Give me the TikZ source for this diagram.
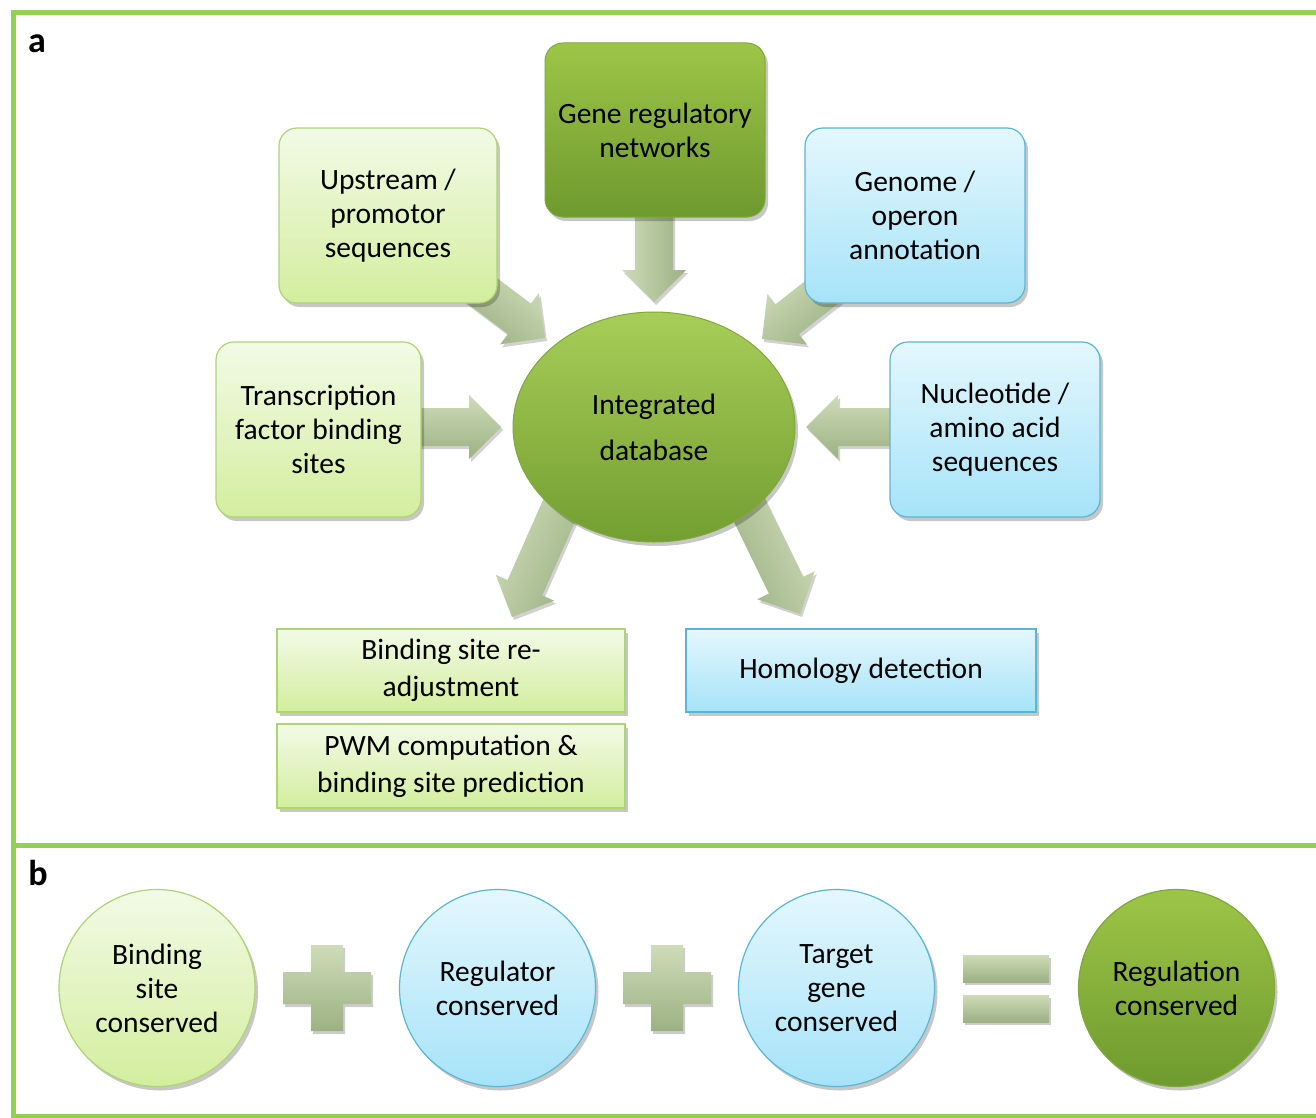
\documentclass[tikz,border=0pt]{standalone}
\usepackage{fontspec}
\setmainfont{Carlito}
\usetikzlibrary{shapes.geometric,shadows,calc}
\definecolor{framegreen}{HTML}{92D050}
\definecolor{lgTop}{HTML}{F2FAE6}
\definecolor{lgBot}{HTML}{D3EE9E}
\definecolor{lgBorder}{HTML}{B0D374}
\definecolor{lbTop}{HTML}{E4F7FD}
\definecolor{lbBot}{HTML}{A6E3F8}
\definecolor{lbBorder}{HTML}{5AB6D6}
\definecolor{dgTop}{HTML}{9DC547}
\definecolor{dgBot}{HTML}{6E9A2E}
\definecolor{dgBorder}{HTML}{7FA93A}
\definecolor{arLight}{HTML}{CEDCB8}
\definecolor{arDark}{HTML}{9CB183}
% block arrow from tail #1 to tip #2, name prefix #3, shading angle #4
\newcommand\fatarrow[4]{%
  \coordinate (#3n) at ($(#2)!32pt!(#1)$);
  \path[fatarr, shading angle=#4] ($(#1)!19pt!90:(#2)$) -- ($(#3n)!19pt!-90:(#1)$) -- ($(#3n)!32pt!-90:(#1)$)
    -- (#2) -- ($(#3n)!32pt!90:(#1)$) -- ($(#3n)!19pt!90:(#1)$) -- ($(#1)!19pt!-90:(#2)$) -- cycle;
}
\begin{document}
\begin{tikzpicture}[x=1pt,y=-1pt,
  txt/.style={font=\fontsize{29.5}{34}\selectfont, align=center, text=black, inner sep=0},
  softshadow/.style={drop shadow={shadow xshift=3pt, shadow yshift=-4pt, opacity=0.22, fill=black}},
  lgbox/.style={txt, rounded corners=18, draw=lgBorder, line width=1.2, top color=lgTop, bottom color=lgBot, softshadow},
  lbbox/.style={txt, rounded corners=18, draw=lbBorder, line width=1.2, top color=lbTop, bottom color=lbBot, softshadow},
  dgbox/.style={txt, rounded corners=18, draw=dgBorder, line width=1.0, top color=dgTop, bottom color=dgBot, softshadow},
  lgrect/.style={txt, draw=lgBorder, line width=1.2, top color=lgTop, bottom color=lgBot, softshadow},
  lbrect/.style={txt, draw=lbBorder, line width=1.2, top color=lbTop, bottom color=lbBot, softshadow},
  fatarr/.style={draw=none, top color=arLight, bottom color=arDark,
    drop shadow={shadow xshift=2pt, shadow yshift=-3pt, opacity=0.18, fill=black}},
  circ/.style={txt, ellipse, minimum width=196, minimum height=197, line width=1.2, softshadow},
  barshape/.style={top color=arLight, bottom color=arDark, draw=none,
    drop shadow={shadow xshift=2pt, shadow yshift=-3pt, opacity=0.2, fill=black}},
  lbl/.style={font=\fontsize{36}{40}\selectfont\bfseries, inner sep=0}
]
\useasboundingbox (0,0) rectangle (1316,1118);
\fill[white] (0,0) rectangle (1316,1118);

% frame
\draw[framegreen, line width=5] (13,13) rectangle (1330,1116);
\draw[framegreen, line width=5] (13,845) -- (1330,845);

\node[lbl] (la) at (37,44) {a};
\node[lbl] (lb) at (38,873) {b};

% arrow end points
\coordinate (gT) at (654,210);  \coordinate (gH) at (654,302);
\coordinate (uT) at (472,283);  \coordinate (uH) at (545,338);
\coordinate (oT) at (836,281);  \coordinate (oH) at (762,339);
\coordinate (tT) at (415,427);  \coordinate (tH) at (501,427);
\coordinate (nT) at (896,427);  \coordinate (nH) at (806,427);
\coordinate (lT) at (566,495);  \coordinate (lH) at (512,617);
\coordinate (rT) at (742,495);  \coordinate (rH) at (800,614);

\fatarrow{gT}{gH}{a1}{90}
\fatarrow{uT}{uH}{a2}{-40}
\fatarrow{oT}{oH}{a3}{40}
\fatarrow{tT}{tH}{a4}{0}
\fatarrow{nT}{nH}{a5}{0}
\fatarrow{lT}{lH}{a6}{65}
\fatarrow{rT}{rH}{a7}{-65}

% panel a nodes
\node[dgbox, minimum width=220, minimum height=174] (gene) at (655,130) {Gene regulatory\\networks};
\node[lgbox, minimum width=218, minimum height=175] (ups) at (388,215.5) {Upstream /\\promotor\\sequences};
\node[lbbox, minimum width=220, minimum height=175] (geno) at (915,215.5) {Genome /\\operon\\annotation};
\node[lgbox, minimum width=205, minimum height=175] (tf) at (318.5,429.5) {Transcription\\factor binding\\sites};
\node[lbbox, minimum width=210, minimum height=175] (nuc) at (995,429.5) {Nucleotide /\\amino acid\\sequences};
\node[txt, ellipse, minimum width=282, minimum height=230, draw=dgBorder, line width=1.0,
      top color=dgTop!80!lgBot, bottom color=dgBot!90!dgTop, softshadow,
      font=\fontsize{29.5}{46}\selectfont] (db) at (654,427) {Integrated\\database};

\node[lgrect, minimum width=348, minimum height=83, font=\fontsize{29.5}{37}\selectfont] (bsr) at (451,670.5) {Binding site re-\\adjustment};
\node[lgrect, minimum width=348, minimum height=84, font=\fontsize{29.5}{37}\selectfont] (pwm) at (451,766) {PWM computation \&\\binding site prediction};
\node[lbrect, minimum width=350, minimum height=83] (hom) at (861,670.5) {Homology detection};

% panel b
\node[circ, draw=lgBorder, top color=lgTop, bottom color=lgBot] (c1) at (157,988) {Binding\\site\\conserved};
\node[circ, draw=lbBorder, top color=lbTop, bottom color=lbBot] (c2) at (497.5,988) {Regulator\\conserved};
\node[circ, draw=lbBorder, top color=lbTop, bottom color=lbBot] (c3) at (836.5,988) {Target\\gene\\conserved};
\node[circ, draw=dgBorder, top color=dgTop, bottom color=dgBot] (c4) at (1176.5,988) {Regulation\\conserved};

% plus signs
\foreach \cx in {327,667}{
  \path[barshape] (\cx-44,972) -- (\cx-16,972) -- (\cx-16,945) -- (\cx+16,945) -- (\cx+16,972)
     -- (\cx+44,972) -- (\cx+44,1004) -- (\cx+16,1004) -- (\cx+16,1031) -- (\cx-16,1031)
     -- (\cx-16,1004) -- (\cx-44,1004) -- cycle;
}
% equals sign
\path[barshape] (963,955) rectangle (1049,982);
\path[barshape] (963,995) rectangle (1049,1022);
\end{tikzpicture}
\end{document}
